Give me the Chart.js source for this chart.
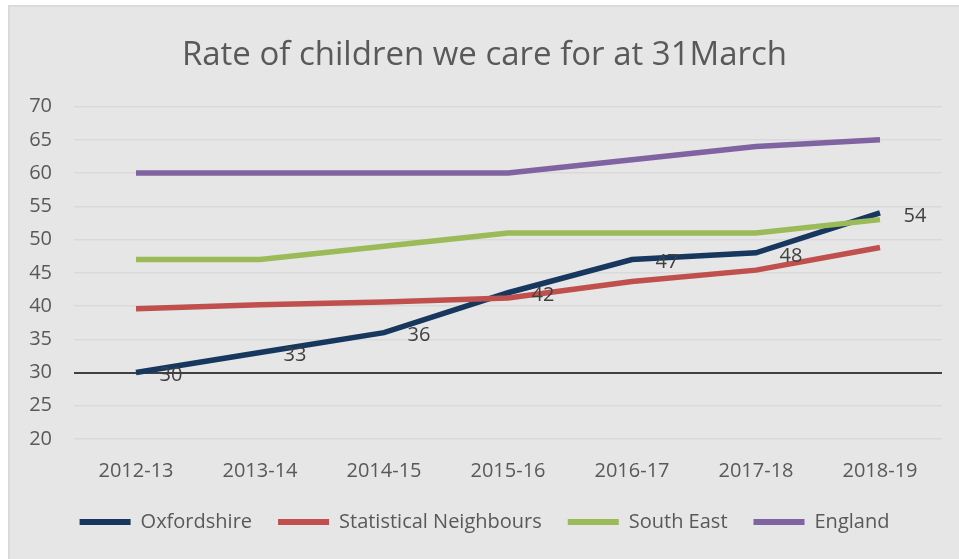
<!DOCTYPE html>
<html>
<head>
<meta charset="utf-8">
<script src="https://cdn.jsdelivr.net/npm/chart.js@4/dist/chart.umd.min.js"></script>
<style>
  body{margin:0;background:#fff;}
  #panel{position:absolute;left:8px;top:5px;width:951px;height:554px;background:#e6e6e6;border-left:2px solid #dadada;border-top:2px solid #dadada;}
  #wrap{position:absolute;left:0;top:0;width:949px;height:552px;}
</style>
</head>
<body>
<div id="panel"><div id="wrap"><canvas id="mainChart"></canvas></div></div>
<script>
"use strict";
// 年度
const years=["2012-13","2013-14","2014-15","2015-16","2016-17","2017-18","2018-19"];
// 各系列数值
const oxfordshire=[30,33,36,42,47,48,54];
const statNeighbours=[39.6,40.2,40.6,41.2,43.7,45.4,48.8];
const southEast=[47,47,49,51,51,51,53];
const england=[60,60,60,60,62,64,65];
const yTicks=[20,25,30,35,40,45,50,55,60,65,70];

const FONT="'Open Sans', sans-serif";
const TEXT="#595959";

//画Oxfordshire的数据标签
const labelPlugin={
    id:"oxLabels",
    afterDatasetsDraw(chart){
        const ctx=chart.ctx;
        const meta=chart.getDatasetMeta(0);
        ctx.save();
        ctx.font="20px "+FONT;
        ctx.fillStyle="#404040";
        ctx.textAlign="center";
        ctx.textBaseline="middle";
        meta.data.forEach((pt,i)=>{
            ctx.fillText(String(oxfordshire[i]),pt.x+35,pt.y+3);
        });
        ctx.restore();
    }
};

function line(label,data,color,order){
    return {
        label,data,
        borderColor:color,
        backgroundColor:color,
        borderWidth:5.5,
        pointRadius:0,
        tension:0,
        fill:false,
        order
    };
}

const data={
    labels:years,
    datasets:[
        line("Oxfordshire",oxfordshire,"#17375e",4),
        line("Statistical Neighbours",statNeighbours,"#c0504d",3),
        line("South East",southEast,"#9bbb59",2),
        line("England",england,"#8064a2",1)
    ]
};

const options={
    maintainAspectRatio:false,
    animation:false,
    layout:{padding:{left:17,right:17,top:0,bottom:17}},
    scales:{
        x:{
            offset:true,
            grid:{display:false,drawTicks:false},
            border:{display:false},
            afterFit(scale){scale.height=47;},
            ticks:{color:TEXT,font:{family:FONT,size:20},padding:20,maxRotation:0}
        },
        y:{
            min:20,max:70,
            afterBuildTicks(scale){scale.ticks=yTicks.map(v=>({value:v}));},
            afterFit(scale){scale.width=47;},
            grid:{
                drawTicks:false,
                color:c=>c.tick&&c.tick.value===30?"#404040":"#d9d9d9",
                lineWidth:c=>c.tick&&c.tick.value===30?2:1.5
            },
            border:{display:false},
            ticks:{color:TEXT,font:{family:FONT,size:20},padding:22}
        }
    },
    plugins:{
        title:{
            display:true,
            text:"Rate of children we care for at 31March",
            color:TEXT,
            font:{family:FONT,size:33,weight:"normal"},
            padding:{top:29,bottom:31}
        },
        legend:{
            position:"bottom",
            labels:{
                color:TEXT,
                font:{family:FONT,size:20},
                boxWidth:51,
                boxHeight:6,
                padding:26,
                sort:(a,b)=>a.datasetIndex-b.datasetIndex,
                generateLabels(chart){
                    return Chart.defaults.plugins.legend.labels.generateLabels(chart).map(l=>{
                        l.lineWidth=0;
                        return l;
                    });
                }
            }
        },
        tooltip:{enabled:false}
    }
};

new Chart(document.getElementById("mainChart"),{type:"line",data,options,plugins:[labelPlugin]});
</script>
</body>
</html>
